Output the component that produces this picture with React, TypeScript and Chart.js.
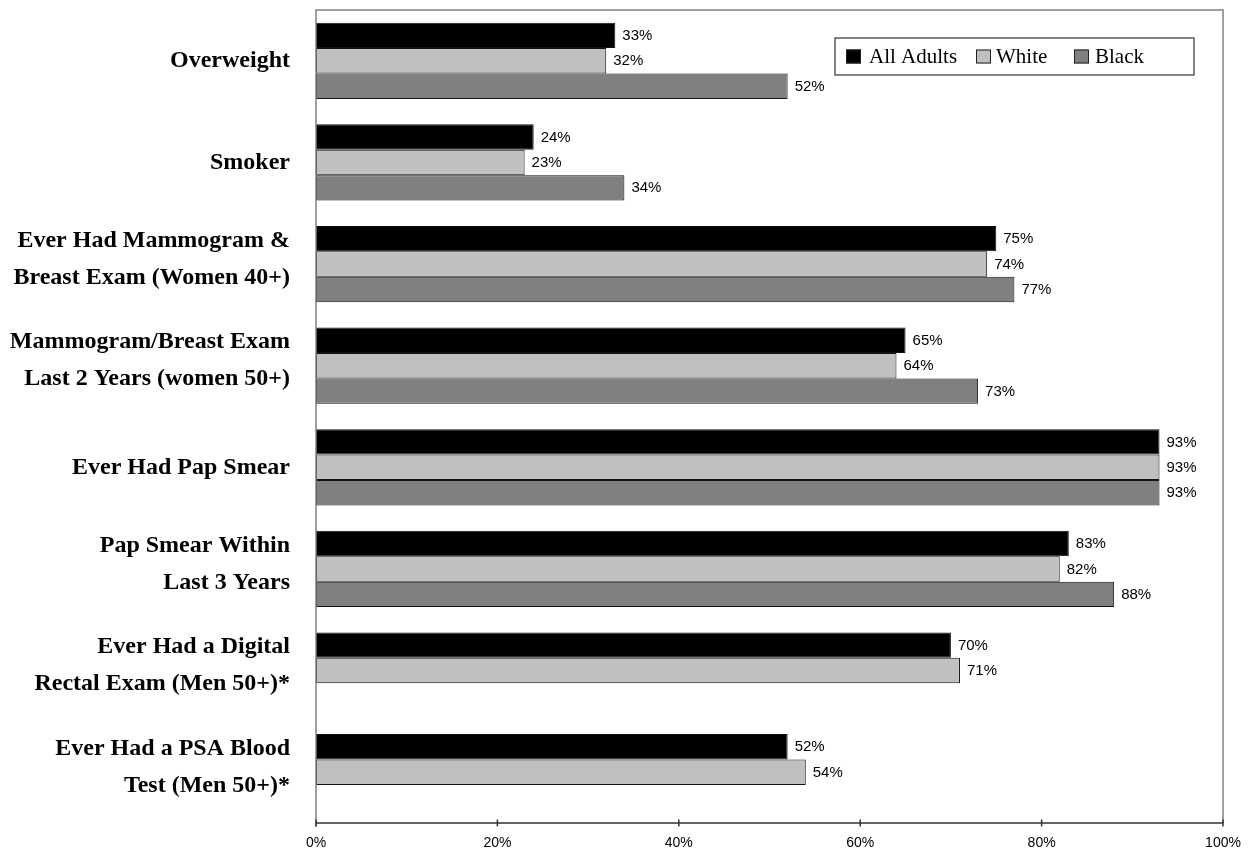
import React, { useEffect, useRef } from "react";
import { Chart, registerables } from "chart.js";

Chart.register(...registerables);

const categories: string[][] = [
  ["Overweight"],
  ["Smoker"],
  ["Ever Had Mammogram &", "Breast Exam (Women 40+)"],
  ["Mammogram/Breast Exam", "Last 2 Years (women 50+)"],
  ["Ever Had Pap Smear"],
  ["Pap Smear Within", "Last 3 Years"],
  ["Ever Had a Digital", "Rectal Exam (Men 50+)*"],
  ["Ever Had a PSA Blood", "Test (Men 50+)*"],
];

const seriesNames: string[] = ["All Adults", "White", "Black"];
const allAdults: (number | null)[] = [33, 24, 75, 65, 93, 83, 70, 52];
const white: (number | null)[] = [32, 23, 74, 64, 93, 82, 71, 54];
const black: (number | null)[] = [52, 34, 77, 73, 93, 88, null, null];
const seriesColors: string[] = ["#000000", "#c0c0c0", "#808080"];
const xTicks: number[] = [0, 20, 40, 60, 80, 100];

const zeroPad = (s: any) => {
  s.paddingLeft = 0;
  s.paddingRight = 0;
  s.paddingTop = 0;
  s.paddingBottom = 0;
};

const frameAndLegend = {
  id: "frameAndLegend",
  afterDatasetsDraw(chart: any) {
    const { ctx, chartArea } = chart;
    const { left, right, top, bottom } = chartArea;
    const xScale = chart.scales.x;
    const yScale = chart.scales.y;
    ctx.save();
    // category labels, placed by the y scale
    ctx.font = "bold 24px 'Liberation Serif', 'Times New Roman', serif";
    ctx.fillStyle = "#000";
    ctx.textAlign = "right";
    ctx.textBaseline = "middle";
    const lineH = 37;
    (chart.data.labels as string[][]).forEach((lines, i) => {
      const cy = yScale.getPixelForTick(i);
      const n = lines.length;
      const startY = n === 1 ? cy : cy - 5 - ((n - 1) * lineH) / 2;
      lines.forEach((ln, j) => {
        ctx.fillText(ln, left - 26, startY + j * lineH);
      });
    });
    // value labels
    ctx.font = "15px 'Liberation Sans', Arial, sans-serif";
    ctx.textAlign = "left";
    chart.data.datasets.forEach((ds: any, di: number) => {
      const meta = chart.getDatasetMeta(di);
      meta.data.forEach((bar: any, i: number) => {
        const v = ds.data[i];
        if (v === null || v === undefined) return;
        ctx.fillText(v + "%", bar.x + 7, bar.y + 0.5);
      });
    });
    // frame
    ctx.lineWidth = 1.5;
    ctx.strokeStyle = "#808080";
    ctx.beginPath();
    ctx.moveTo(left, bottom + 4);
    ctx.lineTo(left, top);
    ctx.lineTo(right, top);
    ctx.lineTo(right, bottom);
    ctx.stroke();
    // bottom axis
    ctx.strokeStyle = "#333";
    ctx.beginPath();
    ctx.moveTo(left, bottom);
    ctx.lineTo(right, bottom);
    xTicks.forEach((t) => {
      const px = xScale.getPixelForValue(t);
      ctx.moveTo(px, bottom - 3.5);
      ctx.lineTo(px, bottom + 3.5);
    });
    ctx.stroke();
    // legend
    const boxL = right - 388;
    const boxT = top + 28;
    const boxW = 359;
    const boxH = 37;
    ctx.fillStyle = "#fff";
    ctx.fillRect(boxL, boxT, boxW, boxH);
    ctx.lineWidth = 1.2;
    ctx.strokeStyle = "#333";
    ctx.strokeRect(boxL, boxT, boxW, boxH);
    const swX = [11, 141, 239];
    const txX = [34, 161, 260];
    ctx.font = "21px 'Liberation Serif', 'Times New Roman', serif";
    ctx.textBaseline = "alphabetic";
    seriesNames.forEach((name, i) => {
      ctx.fillStyle = seriesColors[i];
      ctx.fillRect(boxL + swX[i], boxT + 11.5, 15, 14);
      ctx.lineWidth = 1;
      ctx.strokeStyle = "#222";
      ctx.strokeRect(boxL + swX[i] + 0.5, boxT + 12, 14, 13);
      ctx.fillStyle = "#000";
      ctx.fillText(name, boxL + txX[i], boxT + 25);
    });
    ctx.restore();
  },
};

export default function App() {
  const ref = useRef<HTMLCanvasElement | null>(null);
  useEffect(() => {
    if (!ref.current) return;
    const data = [allAdults, white, black];
    const chart = new Chart(ref.current, {
      type: "bar",
      data: {
        labels: categories,
        datasets: seriesNames.map((name, i) => ({
          label: name,
          data: data[i],
          backgroundColor: seriesColors[i],
          borderColor: "#111",
          borderWidth: 1,
          borderSkipped: false,
          barPercentage: 1,
          categoryPercentage: 0.75,
        })),
      },
      options: {
        indexAxis: "y",
        animation: false,
        responsive: false,
        maintainAspectRatio: false,
        layout: { padding: { left: 0, top: 10, right: 26, bottom: 0 } },
        plugins: {
          legend: { display: false },
          tooltip: { enabled: false },
        },
        scales: {
          x: {
            type: "linear",
            min: 0,
            max: 100,
            afterFit: (s: any) => {
              s.height = 28;
              zeroPad(s);
            },
            afterBuildTicks: (s: any) => {
              s.ticks = xTicks.map((v) => ({ value: v }));
            },
            grid: { display: false, drawTicks: false },
            border: { display: false },
            ticks: {
              padding: 12,
              color: "#000",
              font: { family: "'Liberation Sans', Arial, sans-serif", size: 14 },
              callback: (v: any) => v + "%",
              maxRotation: 0,
            },
          },
          y: {
            type: "category",
            afterFit: (s: any) => {
              s.width = 316;
              zeroPad(s);
            },
            grid: { display: false, drawTicks: false },
            border: { display: false },
            ticks: { display: false, autoSkip: false },
          },
        },
      },
      plugins: [frameAndLegend],
    } as any);
    return () => chart.destroy();
  }, []);
  return (
    <div style={{ position: "fixed", left: 0, top: 0, width: 1249, height: 851, background: "#fff" }}>
      <canvas ref={ref} width={1249} height={851} style={{ width: 1249, height: 851, display: "block" }} />
    </div>
  );
}
